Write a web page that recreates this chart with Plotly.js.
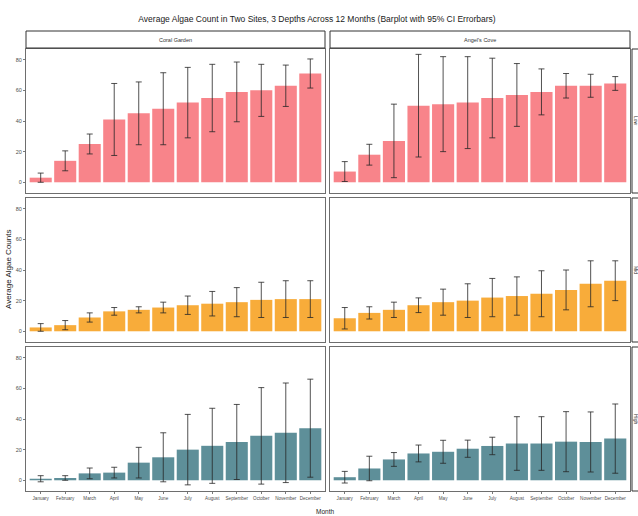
<!DOCTYPE html>
<html>
<head>
<meta charset="utf-8">
<script src="https://cdn.plot.ly/plotly-3.0.1.min.js"></script>
<style>html,body{margin:0;padding:0;background:#fff;}#chart{width:638px;height:516px;}</style>
</head>
<body>
<div id="chart"></div>
<script>
// ---- data ----
const months = ["January","February","March","April","May","June","July","August","September","October","November","December"];
const sites = ["Coral Garden", "Angel's Cove"];
const depths = ["Low", "Mid", "High"];

// Coral Garden
const cgLowMean  = [3, 14, 25, 41, 45, 48, 52, 55, 59, 60, 63, 71];
const cgLowCI    = [3, 6.5, 6.5, 23.5, 20.5, 23.5, 23, 22, 19.5, 17, 13.5, 9.5];
const cgMidMean  = [2.5, 4, 9, 13, 14, 15.5, 17, 18, 19, 20.5, 21, 21];
const cgMidCI    = [2.5, 3, 3, 2.5, 2, 3.5, 6, 8, 9.5, 11.5, 12, 12];
const cgHighMean = [1, 1.5, 4.5, 5, 11.5, 15, 20, 22.5, 25, 29, 31, 34];
const cgHighCI   = [2, 1.5, 3.5, 3.5, 10, 16, 23, 24.5, 24.5, 31.5, 32.5, 32];

// Angel's Cove
const acLowMean  = [7, 18, 27, 50, 51, 52, 55, 57, 59, 63, 63, 64.5];
const acLowCI    = [6.5, 6.8, 24, 33.5, 31, 30, 26, 20.5, 15, 8, 7.5, 4.5];
const acMidMean  = [8.5, 12, 14, 17, 19, 20, 22, 23, 24.5, 27, 31, 33];
const acMidCI    = [7, 4, 5, 4.8, 8.5, 11, 12.5, 12.5, 15, 13, 15, 13];
const acHighMean = [2, 7.7, 13.6, 17.5, 18.6, 20.6, 22.4, 24, 24, 25.2, 25, 27.2];
const acHighCI   = [3.8, 8, 4.5, 5.5, 7.5, 5.6, 5.7, 17.5, 17.5, 19.6, 19.6, 22.6];

const yTicks = [0, 20, 40, 60, 80];

// ---- build ----
const rowColors = ["#F8848A", "#F8AC3A", "#5E8F99"];
const panels = [
  [cgLowMean, cgLowCI, acLowMean, acLowCI],
  [cgMidMean, cgMidCI, acMidMean, acMidCI],
  [cgHighMean, cgHighCI, acHighMean, acHighCI]
];

const W = 604, H = 442;
const colDom = [[0, 299/W], [304/W, 1]];
const rowDom = [[298/H, 1], [149/H, 293/H], [0, 144/H]];
const FONT = "Liberation Sans Narrow, Liberation Sans, Arial, sans-serif";

const data = [];
const layout = {
  width: 638, height: 516,
  margin: {l: 26, r: 8, t: 49, b: 25},
  paper_bgcolor: "#ffffff",
  plot_bgcolor: "#ffffff",
  showlegend: false,
  bargap: 0.1,
  font: {family: FONT, size: 6, color: "#4d4d4d"},
  title: {
    text: "Average Algae Count in Two Sites, 3 Depths Across 12 Months (Barplot with 95% CI Errorbars)",
    x: 317/638, xref: "container", xanchor: "center",
    y: 1 - 19/516, yref: "container", yanchor: "middle",
    font: {family: FONT, size: 8.5, color: "#1a1a1a"}
  },
  shapes: [],
  annotations: []
};

let idx = 0;
for (let r = 0; r < 3; r++) {
  for (let c = 0; c < 2; c++) {
    idx++;
    const xa = idx === 1 ? "x" : "x" + idx;
    const ya = idx === 1 ? "y" : "y" + idx;
    const mean = panels[r][c*2];
    const ci = panels[r][c*2 + 1];
    data.push({
      type: "bar",
      x: months, y: mean,
      xaxis: xa, yaxis: ya,
      marker: {color: rowColors[r], line: {width: 0}},
      error_y: {type: "data", array: ci, visible: true, color: "#262626", thickness: 0.8, width: 3},
      hoverinfo: "x+y"
    });
    const xKey = idx === 1 ? "xaxis" : "xaxis" + idx;
    const yKey = idx === 1 ? "yaxis" : "yaxis" + idx;
    layout[xKey] = {
      domain: colDom[c], anchor: ya,
      type: "category", categoryorder: "array", categoryarray: months,
      range: [-0.6, 11.6],
      showline: true, mirror: true, linecolor: "#6e6e6e", linewidth: 1,
      showgrid: false, zeroline: false,
      ticks: r === 2 ? "outside" : "", ticklen: 2, tickcolor: "#7a7a7a",
      showticklabels: r === 2,
      tickfont: {family: FONT, size: 4.6, color: "#4d4d4d"},
      tickangle: 0, automargin: false, fixedrange: true
    };
    layout[yKey] = {
      domain: rowDom[r], anchor: xa,
      range: [-7, 87],
      tickvals: yTicks, ticktext: yTicks.map(String),
      showline: true, mirror: true, linecolor: "#6e6e6e", linewidth: 1,
      showgrid: false, zeroline: false,
      ticks: c === 0 ? "outside" : "", ticklen: 2, tickcolor: "#7a7a7a",
      showticklabels: c === 0,
      tickfont: {family: FONT, size: 5.5, color: "#4d4d4d"},
      automargin: false, fixedrange: true
    };
  }
}

// top facet strips (sites)
for (let c = 0; c < 2; c++) {
  layout.shapes.push({
    type: "rect", xref: "paper", yref: "paper",
    x0: colDom[c][0], x1: colDom[c][1], y0: 1 + 1/H, y1: 1 + 18/H,
    line: {color: "#333333", width: 1}, fillcolor: "#ffffff"
  });
  layout.annotations.push({
    xref: "paper", yref: "paper",
    x: (colDom[c][0] + colDom[c][1]) / 2, y: 1 + 9.5/H,
    text: sites[c], showarrow: false, xanchor: "center", yanchor: "middle",
    font: {family: FONT, size: 5.5, color: "#333333"}
  });
}
// right facet strips (depths)
for (let r = 0; r < 3; r++) {
  layout.shapes.push({
    type: "rect", xref: "paper", yref: "paper",
    x0: 1 + 2/W, x1: 1 + 20/W, y0: rowDom[r][0], y1: rowDom[r][1],
    line: {color: "#333333", width: 1}, fillcolor: "#ffffff"
  });
  layout.annotations.push({
    xref: "paper", yref: "paper",
    x: 1 + 6/W, y: (rowDom[r][0] + rowDom[r][1]) / 2,
    text: depths[r], showarrow: false, textangle: 90,
    xanchor: "center", yanchor: "middle",
    font: {family: FONT, size: 5, color: "#333333"}
  });
}
// axis titles
layout.annotations.push({
  xref: "paper", yref: "paper", x: (325 - 26)/W, y: -20/H,
  text: "Month", showarrow: false, xanchor: "center", yanchor: "middle",
  font: {family: FONT, size: 6.5, color: "#1a1a1a"}
});
layout.annotations.push({
  xref: "paper", yref: "paper", x: (8 - 26)/W, y: (491 - 270)/H,
  text: "Average Algae Counts", showarrow: false, textangle: -90,
  xanchor: "center", yanchor: "middle",
  font: {family: FONT, size: 8, color: "#1a1a1a"}
});

Plotly.newPlot("chart", data, layout, {displayModeBar: false, staticPlot: true});
</script>
</body>
</html>
